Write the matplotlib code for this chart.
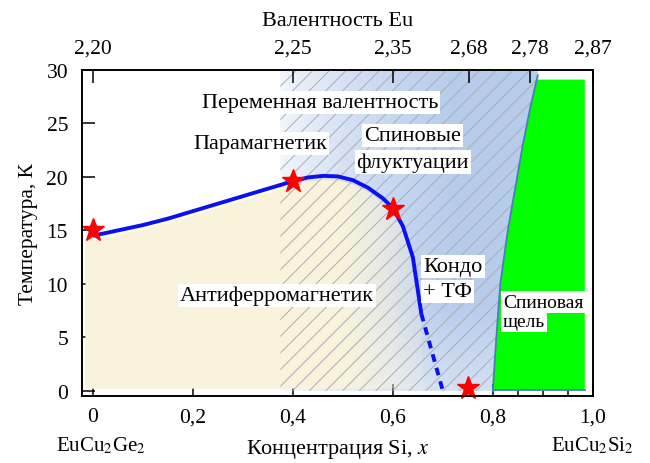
import numpy as np
import matplotlib
matplotlib.use("Agg")
import matplotlib.pyplot as plt
from matplotlib.patches import Polygon

plt.rcParams['font.family'] = ['Liberation Serif', 'DejaVu Serif']
plt.rcParams['mathtext.fontset'] = 'stix'
plt.rcParams['hatch.linewidth'] = 0.7

# Фазовая граница (сплошная часть) и её продолжение пунктиром
curve_x = np.array([0, 0.05, 0.1, 0.15, 0.2, 0.25, 0.3, 0.35, 0.4, 0.43, 0.46,
                    0.49, 0.52, 0.55, 0.58, 0.6, 0.62, 0.64, 0.657])
curve_T = np.array([14.5, 15.0, 15.5, 16.1, 16.8, 17.5, 18.2, 18.9, 19.6, 19.95,
                    20.1, 20.05, 19.7, 19.0, 18.0, 17.1, 15.4, 12.5, 7.2])
dot_x = np.array([0.657, 0.70])
dot_T = np.array([7.2, 0.0])

# Экспериментальные точки
star_x = np.array([0, 0.4, 0.6, 0.75])
star_T = np.array([15.0, 19.6, 17.0, 0.3])

# Граница области спиновой щели
gap_x = np.array([0.80, 0.807, 0.815, 0.83, 0.845, 0.86, 0.875, 0.89])
gap_T = np.array([0.0, 5.0, 10.0, 15.0, 19.0, 23.0, 26.5, 29.5])
gap_right = 0.984
gap_top = 29.1

# Верхняя ось: валентность Eu
val_pos = [0, 0.4, 0.6, 0.752, 0.874, 1.0]
val_labels = ['2,20', '2,25', '2,35', '2,68', '2,78', '2,87']

fig = plt.figure(figsize=(6.5, 4.64), dpi=100)
ax = fig.add_axes([0.126, 0.144, 0.786, 0.703])
xlim = (-0.022, 1.0)
ylim = (-0.5, 30)
ax.set_xlim(*xlim)
ax.set_ylim(*ylim)

# область переменной валентности (градиент)
blue_verts = [(0.375, 0), (0.375, 30), (0.89, 30)] + list(zip(gap_x[::-1], gap_T[::-1]))
blue_poly = Polygon(blue_verts, closed=True, facecolor='none', edgecolor='none')
ax.add_patch(blue_poly)
gx, gy = np.meshgrid(np.linspace(0.36, 0.9, 200), np.linspace(0, 30, 120))
w = np.clip((gx - 0.37) / 0.35, 0, 1) ** 0.7 * (0.55 + 0.45 * np.clip(gy / 8, 0, 1))
w = 0.12 + 0.88 * w
target = np.array([0.72, 0.80, 0.925])
img = np.ones(gx.shape + (4,))
for k in range(3):
    img[..., k] = 1 - w * (1 - target[k])
im = ax.imshow(img, extent=[0.36, 0.9, 0, 30], origin='lower', aspect='auto', zorder=1)
im.set_clip_path(blue_poly)

# антиферромагнитная область (бежевая)
beige_verts = [(-0.015, 0.2), (-0.015, curve_T[0] - 0.5)] + \
    list(zip(curve_x, curve_T - 0.4)) + [(0.66, 0.2)]
beige_poly = Polygon(beige_verts, closed=True, facecolor='none', edgecolor='none')
ax.add_patch(beige_poly)
bx, by = np.meshgrid(np.linspace(-0.02, 0.67, 200), np.linspace(0, 21, 60))
bimg = np.zeros(bx.shape + (4,))
bimg[..., 0] = 0.98
bimg[..., 1] = 0.955
bimg[..., 2] = 0.86
bimg[..., 3] = np.clip(1 - (bx - 0.5) / 0.2, 0.15, 1)
im2 = ax.imshow(bimg, extent=[-0.02, 0.67, 0, 21], origin='lower', aspect='auto', zorder=2)
im2.set_clip_path(beige_poly)

# штриховка
hatch_poly = Polygon(blue_verts, closed=True, facecolor='none', edgecolor='#a8acb4',
                     hatch='//', linewidth=0, zorder=3)
ax.add_patch(hatch_poly)

# спиновая щель
green_verts = list(zip(gap_x, gap_T))[:-1] + [(0.886, gap_top), (gap_right, gap_top), (gap_right, 0.1)]
ax.add_patch(Polygon(green_verts, closed=True, facecolor='#00ff00', edgecolor='none', zorder=3))
ax.plot(gap_x, gap_T, color='#4a7ebb', lw=1.3, zorder=4)
ax.plot([gap_x[0], gap_right], [0.1, 0.1], color='#4a7ebb', lw=1.3, zorder=4)

# фазовая граница
ax.plot(curve_x, curve_T, color='#0a10f0', lw=2.8, zorder=5, solid_capstyle='butt')
ax.plot(dot_x, dot_T, color='#0a10f0', lw=2.8, ls=(0, (2.0, 1.6)), zorder=5)
ax.plot(star_x, star_T, ls='none', marker='*', ms=17, color='#ff0000',
        markeredgecolor='#ff0000', zorder=6, clip_on=False)

box = dict(facecolor='white', edgecolor='none', pad=1.5)
fs = 16
ax.text(0.454, 27.0, 'Переменная валентность', ha='center', va='center', fontsize=fs, bbox=box, zorder=7)
ax.text(0.334, 23.1, 'Парамагнетик', ha='center', va='center', fontsize=fs, bbox=box, zorder=7)
ax.text(0.64, 23.9, 'Спиновые', ha='center', va='center', fontsize=fs, bbox=box, zorder=7)
ax.text(0.64, 21.4, 'флуктуации', ha='center', va='center', fontsize=fs, bbox=box, zorder=7)
ax.text(0.368, 8.9, 'Антиферромагнетик', ha='center', va='center', fontsize=fs, bbox=box, zorder=7)
ax.text(0.661, 11.6, 'Кондо', ha='left', va='center', fontsize=fs, bbox=box, zorder=7)
ax.text(0.661, 9.3, '+ ТФ', ha='left', va='center', fontsize=fs, bbox=box, zorder=7)
ax.text(0.82, 8.3, 'Спиновая', ha='left', va='center', fontsize=14, bbox=box, zorder=7)
ax.text(0.82, 6.5, 'щель', ha='left', va='center', fontsize=14, bbox=box, zorder=7)

# оси
ax.set_xticks([0, 0.2, 0.4, 0.6, 0.8, 1.0])
ax.set_xticklabels(['0', '0,2', '0,4', '0,6', '0,8', '1,0'])
ax.set_xticks([0.85, 0.9, 0.95], minor=True)
ax.set_yticks(np.arange(0, 31, 5))
ax.tick_params(axis='both', which='major', direction='in', length=9, width=1.1,
               labelsize=15.5, top=False, right=False)
ax.tick_params(axis='x', which='major', pad=8)
ax.tick_params(axis='y', which='major', pad=10)
ax.tick_params(axis='x', which='minor', direction='in', length=4, width=1.1)
ax.tick_params(axis='y', which='minor', left=False)
for s in ax.spines.values():
    s.set_linewidth(1.2)
ax.set_ylabel('Температура, К', fontsize=15.5, labelpad=6)
ax.set_xlabel('Концентрация Si, $x$', fontsize=16, labelpad=8)
ax.text(0.016, -0.15, 'EuCu$_2$Ge$_2$', transform=ax.get_xaxis_transform(),
        ha='center', va='center', fontsize=15)
ax.text(1.0, -0.15, 'EuCu$_2$Si$_2$', transform=ax.get_xaxis_transform(),
        ha='center', va='center', fontsize=15)

ax2 = ax.twiny()
ax2.set_xlim(*xlim)
ax2.set_xticks(val_pos)
ax2.set_xticklabels(val_labels)
ax2.tick_params(axis='x', direction='in', length=9, width=1.1, labelsize=15.5, pad=9)
ax2.set_xlabel('Валентность Eu', fontsize=16, labelpad=10)
for s in ax2.spines.values():
    s.set_linewidth(1.2)

fig.savefig('out.png', dpi=100)
